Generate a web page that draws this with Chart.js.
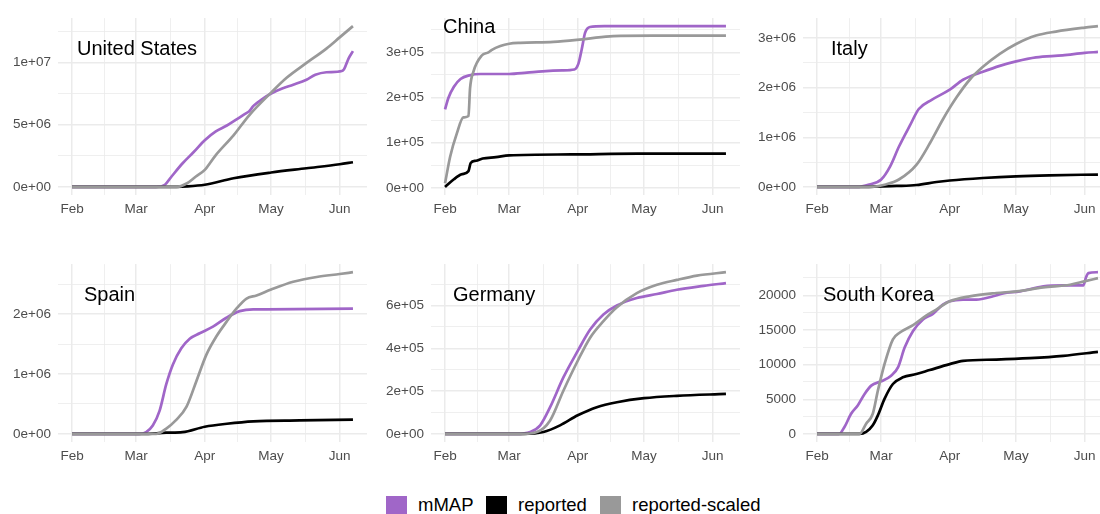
<!DOCTYPE html>
<html>
<head>
<meta charset="utf-8">
<script src="https://cdn.jsdelivr.net/npm/chart.js@4.4.1/dist/chart.umd.min.js"></script>
<style>
  html, body { margin: 0; padding: 0; background: #fff; width: 1100px; height: 514px; overflow: hidden; }
  canvas { position: absolute; }
  .key { position: absolute; top: 496px; width: 21px; height: 19px; }
  .lab { position: absolute; top: 494px; font: 18.5px "Liberation Sans", Arial, sans-serif; color: #000; white-space: nowrap; }
</style>
</head>
<body>
<canvas id="c0" width="382" height="222"></canvas>
<canvas id="c1" width="382" height="222"></canvas>
<canvas id="c2" width="382" height="222"></canvas>
<canvas id="c3" width="382" height="223"></canvas>
<canvas id="c4" width="382" height="223"></canvas>
<canvas id="c5" width="382" height="223"></canvas>

<span class="key" style="left:386px;background:#a066c8"></span><span class="lab" style="left:418px">mMAP</span>
<span class="key" style="left:486px;background:#000"></span><span class="lab" style="left:518px">reported</span>
<span class="key" style="left:600px;background:#999"></span><span class="lab" style="left:632px">reported-scaled</span>

<script>
// x values are days since Feb 1 2020
const monthDays = [0, 29, 60, 90, 121];
const monthLabels = ['Feb', 'Mar', 'Apr', 'May', 'Jun'];
const minorDays = [14.5, 44.5, 75, 105.5];
const dayRange = [0, 127];

// [day, value]
const usMmap = [[0,0],[38,0],[42,0.18e6],[45,0.84e6],[50,1.9e6],[55,2.8e6],[60,3.75e6],[65,4.46e6],[70,4.93e6],[74,5.38e6],[79,5.95e6],[80,6.05e6],[82,6.5e6],[86,7.05e6],[90,7.5e6],[95,7.9e6],[100,8.2e6],[106,8.6e6],[110,9.0e6],[115,9.2e6],[122,9.3e6],[123,9.45e6],[125,10.3e6],[127,10.9e6]];
const usReported = [[0,0],[42,0],[52,0.05e6],[60,0.18e6],[73,0.7e6],[90,1.16e6],[106,1.5e6],[121,1.82e6],[127,1.98e6]];
const usScaled = [[0,0],[47,0],[52,0.3e6],[56,0.84e6],[60,1.37e6],[65,2.56e6],[73,4.14e6],[80,5.73e6],[90,7.57e6],[97,8.76e6],[106,9.95e6],[115,11.1e6],[121,12.0e6],[127,12.9e6]];

const chinaMmap = [[0,1.74e5],[1.5,1.99e5],[4,2.24e5],[7,2.41e5],[11,2.49e5],[16,2.52e5],[29,2.52e5],[37,2.55e5],[44,2.58e5],[53,2.6e5],[58.5,2.62e5],[60.3,2.75e5],[61.8,3.07e5],[63.3,3.43e5],[65.5,3.56e5],[72,3.58e5],[127,3.58e5]];
const chinaReported = [[0,0.02e5],[4,0.19e5],[7.5,0.3e5],[10.6,0.37e5],[11.6,0.55e5],[14,0.6e5],[17,0.65e5],[23,0.68e5],[29,0.72e5],[57,0.74e5],[87,0.757e5],[127,0.757e5]];
const chinaScaled = [[0,0.1e5],[2.3,0.69e5],[5.3,1.2e5],[8.3,1.56e5],[10.6,1.59e5],[11.3,2.2e5],[12.8,2.57e5],[16.6,2.93e5],[19.6,3.0e5],[21,3.05e5],[25,3.14e5],[29,3.19e5],[34,3.21e5],[49,3.23e5],[64,3.3e5],[76,3.36e5],[94,3.37e5],[127,3.37e5]];

const italyMmap = [[0,0],[18,0],[23.6,0.05e6],[29,0.15e6],[33,0.41e6],[37,0.81e6],[42,1.24e6],[46,1.57e6],[52,1.76e6],[60,1.96e6],[66,2.16e6],[75,2.32e6],[82.6,2.44e6],[90,2.53e6],[99,2.61e6],[111,2.65e6],[121,2.7e6],[127,2.72e6]];
const italyReported = [[0,0],[21,0],[36,0.02e6],[45,0.04e6],[54,0.1e6],[60,0.13e6],[75,0.18e6],[90,0.215e6],[105,0.235e6],[127,0.25e6]];
const italyScaled = [[0,0],[24,0],[31,0.05e6],[37,0.15e6],[45,0.45e6],[51,0.88e6],[57,1.37e6],[63,1.8e6],[69,2.16e6],[75,2.42e6],[82.6,2.68e6],[90,2.88e6],[99,3.05e6],[108,3.13e6],[121,3.21e6],[127,3.24e6]];

const spainMmap = [[0,0],[30.5,0],[33.5,0.03e6],[36.5,0.14e6],[39.6,0.39e6],[42.6,0.83e6],[45.6,1.16e6],[49.4,1.43e6],[53.2,1.59e6],[57.7,1.68e6],[63.7,1.79e6],[69.8,1.94e6],[75.8,2.05e6],[81.9,2.08e6],[88,2.08e6],[127,2.09e6]];
const spainReported = [[0,0],[32,0],[42.6,0.02e6],[50,0.03e6],[60,0.12e6],[70,0.17e6],[82,0.21e6],[103,0.225e6],[127,0.24e6]];
const spainScaled = [[0,0],[38,0],[42.6,0.09e6],[47,0.23e6],[51.7,0.45e6],[56.2,0.88e6],[60.7,1.32e6],[65.3,1.63e6],[69.8,1.87e6],[74.3,2.09e6],[78.9,2.26e6],[83.4,2.31e6],[90,2.41e6],[100,2.54e6],[110.6,2.62e6],[121,2.67e6],[127,2.7e6]];

const germanyMmap = [[0,0],[32.4,0],[38.5,0.09e5],[43,0.4e5],[47.5,1.25e5],[53.5,2.64e5],[60,3.88e5],[65.6,4.88e5],[71.6,5.58e5],[77.7,6.0e5],[86.7,6.35e5],[95.8,6.54e5],[104.8,6.74e5],[116.9,6.92e5],[127,7.05e5]];
const germanyReported = [[0,0],[35.4,0],[44.5,0.09e5],[52,0.4e5],[60,0.87e5],[68.6,1.25e5],[77.7,1.48e5],[90,1.67e5],[104.8,1.78e5],[127,1.87e5]];
const germanyScaled = [[0,0],[34,0],[41.5,0.09e5],[47.5,0.63e5],[53.5,2.02e5],[60,3.42e5],[65.6,4.5e5],[71.6,5.27e5],[77.7,5.92e5],[86.7,6.58e5],[95.8,6.97e5],[104.8,7.2e5],[113.9,7.4e5],[127,7.56e5]];

const koreaMmap = [[0,0],[10,0],[12.4,1000],[15.4,2910],[18.4,4100],[21.5,5770],[24.5,6970],[29,7590],[33.5,8400],[36.6,9590],[39.6,12450],[43.4,14840],[47.9,16510],[52.4,17320],[56.9,18650],[60,19130],[66,19370],[72,19370],[79.6,19850],[84.1,20280],[91.7,20560],[102.3,21280],[111.3,21420],[120.4,21420],[121.6,22600],[122.7,23190],[127,23330]];
const koreaReported = [[0,0],[19.2,0],[22.2,290],[25.2,1240],[27.5,2670],[30.5,5060],[34.3,7200],[38.8,8160],[44.9,8640],[50.9,9210],[60,10070],[66,10540],[81.1,10730],[96.2,10930],[111.3,11260],[127,11830]];
const koreaScaled = [[0,0],[19.2,0],[22.2,1480],[25.2,2910],[27.5,6250],[30.5,10070],[34.3,13650],[37.3,14600],[43.4,15700],[47.9,16750],[53.9,17940],[60,19130],[69,19850],[81.1,20330],[90.2,20560],[102.3,21140],[114.4,21520],[120.8,22000],[127,22470]];

// y axis breaks and labels
const usBreaks = [0, 5e6, 1e7], usLabels = ['0e+00', '5e+06', '1e+07'], usMinor = [2.5e6, 7.5e6, 1.25e7];
const chinaBreaks = [0, 1e5, 2e5, 3e5], chinaLabels = ['0e+00', '1e+05', '2e+05', '3e+05'], chinaMinor = [0.5e5, 1.5e5, 2.5e5, 3.5e5];
const italyBreaks = [0, 1e6, 2e6, 3e6], italyLabels = ['0e+00', '1e+06', '2e+06', '3e+06'], italyMinor = [0.5e6, 1.5e6, 2.5e6];
const spainBreaks = [0, 1e6, 2e6], spainLabels = ['0e+00', '1e+06', '2e+06'], spainMinor = [0.5e6, 1.5e6, 2.5e6];
const germanyBreaks = [0, 2e5, 4e5, 6e5], germanyLabels = ['0e+00', '2e+05', '4e+05', '6e+05'], germanyMinor = [1e5, 3e5, 5e5, 7e5];
const koreaBreaks = [0, 5000, 10000, 15000, 20000], koreaLabels = ['0', '5000', '10000', '15000', '20000'], koreaMinor = [2500, 7500, 12500, 17500, 22500];

const countries = ['United States', 'China', 'Italy', 'Spain', 'Germany', 'South Korea'];

const panels = [
  { name: countries[0], m: usMmap, r: usReported, s: usScaled, br: usBreaks, lb: usLabels, mn: usMinor, left: 0, top: 3, tx: 19, ty: 37 },
  { name: countries[1], m: chinaMmap, r: chinaReported, s: chinaScaled, br: chinaBreaks, lb: chinaLabels, mn: chinaMinor, left: 373, top: 3, tx: 12, ty: 15 },
  { name: countries[2], m: italyMmap, r: italyReported, s: italyScaled, br: italyBreaks, lb: italyLabels, mn: italyMinor, left: 745, top: 3, tx: 28, ty: 37 },
  { name: countries[3], m: spainMmap, r: spainReported, s: spainScaled, br: spainBreaks, lb: spainLabels, mn: spainMinor, left: 0, top: 249, tx: 26, ty: 37 },
  { name: countries[4], m: germanyMmap, r: germanyReported, s: germanyScaled, br: germanyBreaks, lb: germanyLabels, mn: germanyMinor, left: 373, top: 249, tx: 22, ty: 37 },
  { name: countries[5], m: koreaMmap, r: koreaReported, s: koreaScaled, br: koreaBreaks, lb: koreaLabels, mn: koreaMinor, left: 745, top: 249, tx: 20, ty: 37 }
];

const font = '"Liberation Sans", Arial, sans-serif';
const gridCol = '#ebebeb';

const titlePlugin = {
  id: 'panelTitle',
  afterDraw(chart, args, opts) {
    const c = chart.ctx, a = chart.chartArea;
    c.save();
    c.font = '20px ' + font;
    c.fillStyle = '#000';
    c.textBaseline = 'alphabetic';
    c.textAlign = 'left';
    c.fillText(opts.text, a.left + opts.x, a.top + opts.y);
    c.restore();
  }
};

const toPts = arr => arr.map(p => ({ x: p[0], y: p[1] }));

function line(label, pts, color, order) {
  return {
    label, data: toPts(pts), borderColor: color, backgroundColor: color,
    borderWidth: 2.7, pointRadius: 0, cubicInterpolationMode: 'monotone', order
  };
}

panels.forEach((p, i) => {
  const cv = document.getElementById('c' + i);
  cv.style.left = p.left + 'px';
  cv.style.top = p.top + 'px';

  const all = [...p.m, ...p.r, ...p.s].map(d => d[1]);
  const lo = Math.min(...all), hi = Math.max(...all);
  const span = hi - lo;
  const xSpan = dayRange[1] - dayRange[0];

  const xTicks = [...monthDays, ...minorDays].sort((a, b) => a - b);
  const yTicks = [...p.br, ...p.mn].sort((a, b) => a - b);

  new Chart(cv, {
    type: 'line',
    data: {
      datasets: [
        line('mMAP', p.m, '#a066c8', 3),
        line('reported', p.r, '#000000', 2),
        line('reported-scaled', p.s, '#999999', 1)
      ]
    },
    options: {
      responsive: false,
      animation: false,
      layout: { padding: { top: 12, right: 15, left: 0, bottom: 0 } },
      plugins: {
        legend: { display: false },
        tooltip: { enabled: false },
        panelTitle: { text: p.name, x: p.tx, y: p.ty }
      },
      scales: {
        x: {
          type: 'linear',
          min: dayRange[0] - 0.05 * xSpan,
          max: dayRange[1] + 0.05 * xSpan,
          afterBuildTicks: s => { s.ticks = xTicks.map(v => ({ value: v })); },
          afterFit: s => { s.height = 30; },
          border: { display: false },
          grid: {
            drawTicks: false,
            color: gridCol,
            lineWidth: ctx => monthDays.includes(ctx.tick.value) ? 1.5 : 0.8
          },
          ticks: {
            autoSkip: false, maxRotation: 0, padding: 6,
            color: '#4d4d4d', font: { family: font, size: 13.5 },
            callback: v => { const k = monthDays.indexOf(v); return k < 0 ? '' : monthLabels[k]; }
          }
        },
        y: {
          min: lo - 0.05 * span,
          max: hi + 0.05 * span,
          afterBuildTicks: s => { s.ticks = yTicks.map(v => ({ value: v })); },
          afterFit: s => { s.width = 58; },
          border: { display: false },
          grid: {
            drawTicks: false,
            color: gridCol,
            lineWidth: ctx => p.br.includes(ctx.tick.value) ? 1.5 : 0.8
          },
          ticks: {
            autoSkip: false, padding: 7,
            color: '#4d4d4d', font: { family: font, size: 13.5 },
            callback: v => { const k = p.br.indexOf(v); return k < 0 ? '' : p.lb[k]; }
          }
        }
      }
    },
    plugins: [titlePlugin]
  });
});
</script>
</body>
</html>
